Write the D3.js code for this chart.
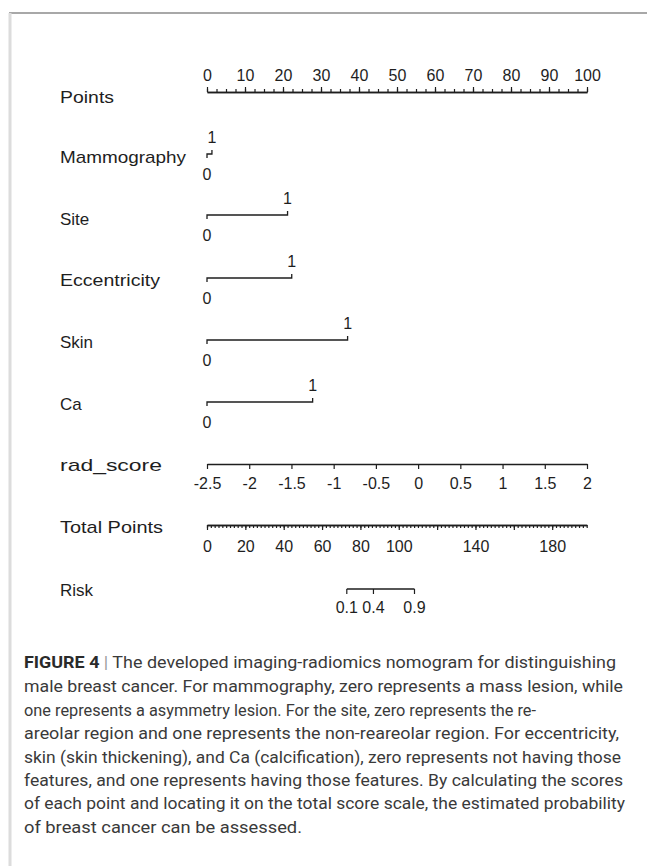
<!DOCTYPE html>
<html>
<head>
<meta charset="utf-8">
<script src="https://cdn.jsdelivr.net/npm/d3@7"></script>
<style>
  html, body { margin: 0; padding: 0; background: #fff; }
  svg { display: block; }
</style>
</head>
<body>
<script>
// Nomogram scales and values
const pointsRange = [0, 100];
const pointsMajorTicks = d3.range(0, 101, 10);
const pointsMinorTicks = d3.range(0, 100.01, 2.5);

const variableNames = ["Mammography", "Site", "Eccentricity", "Skin", "Ca"];
const variablePointsAtOne = [1.3, 21.2, 22.3, 37.0, 27.8];

const radScoreRange = [-2.5, 2];
const radScoreTicks = [-2.5, -2, -1.5, -1, -0.5, 0, 0.5, 1, 1.5, 2];

const totalRange = [0, 198];
const totalMajorTicks = d3.range(0, 199, 20);
const totalMinorTicks = d3.range(0, 199, 2);
const totalTickLabels = [0, 20, 40, 60, 80, 100, 140, 180];

const riskLabels = ["0.1", "0.4", "0.9"];
const riskTotalPoints = [72.9, 86.8, 108.2];

const captionLines = [
  "The developed imaging-radiomics nomogram for distinguishing",
  "male breast cancer. For mammography, zero represents a mass lesion, while",
  "one represents a asymmetry lesion. For the site, zero represents the re-",
  "areolar region and one represents the non-reareolar region. For eccentricity,",
  "skin (skin thickening), and Ca (calcification), zero represents not having those",
  "features, and one represents having those features. By calculating the scores",
  "of each point and locating it on the total score scale, the estimated probability",
  "of breast cancer can be assessed."
];
const captionRightEdges = [616, 623, 536, 619, 621, 623, 625, 302];

const W = 647, H = 866;
const svg = d3.select("body").append("svg").attr("width", W).attr("height", H);

// frame
svg.append("line").attr("x1", 9).attr("x2", W).attr("y1", 13).attr("y2", 13)
  .attr("stroke", "#a8a8a8").attr("stroke-width", 2);
svg.append("line").attr("x1", 10).attr("x2", 10).attr("y1", 13).attr("y2", H)
  .attr("stroke", "#dcdcdc").attr("stroke-width", 3);

const x0 = 207, x1 = 587;
const xPoints = d3.scaleLinear().domain(pointsRange).range([x0, x1]);
const xRad = d3.scaleLinear().domain(radScoreRange).range([x0, x1]);
const xTotal = d3.scaleLinear().domain(totalRange).range([x0, 586.7]);

const ink = "#1e1e1e";
const font = "'Liberation Sans', Arial, sans-serif";
const labelX = 60;
const labelSize = 17;
const tickSize = 16;

// long row labels are set a little wide, as in the printed figure
const labelWidths = {
  "Points": 54, "Mammography": 126, "Eccentricity": 100,
  "rad_score": 102, "Total Points": 103
};

function rowLabel(text, y) {
  const t = svg.append("text").attr("x", labelX).attr("y", y)
    .attr("font-family", font).attr("font-size", labelSize).attr("fill", ink)
    .attr("dominant-baseline", "central")
    .text(text);
  if (labelWidths[text]) {
    t.attr("textLength", labelWidths[text]).attr("lengthAdjust", "spacingAndGlyphs");
  }
}

// tidy a d3 axis into the plain nomogram look
function styleAxis(g) {
  g.select(".domain").attr("stroke", ink).attr("stroke-width", 1.3);
  g.selectAll(".tick line").attr("stroke", ink).attr("stroke-width", 1.2);
  g.selectAll("text").attr("font-family", font).attr("font-size", tickSize).attr("fill", ink);
}

// Points
rowLabel("Points", 97);
const ptsY = 92;
const gPtsMinor = svg.append("g").attr("transform", `translate(0,${ptsY})`)
  .call(d3.axisTop(xPoints).tickValues(pointsMinorTicks).tickSize(3).tickSizeOuter(0).tickFormat(""));
styleAxis(gPtsMinor);
const gPts = svg.append("g").attr("transform", `translate(0,${ptsY})`)
  .call(d3.axisTop(xPoints).tickValues(pointsMajorTicks).tickSize(5).tickSizeOuter(0).tickPadding(6));
styleAxis(gPts);

// binary predictors
const rowYs = [154, 215, 278, 340, 402];
const labelYs = [157, 219, 280, 342, 404];
variableNames.forEach((name, i) => {
  const y = rowYs[i];
  rowLabel(name, labelYs[i]);
  const xa = xPoints(0), xb = xPoints(variablePointsAtOne[i]);
  svg.append("path")
    .attr("d", `M${xa},${y + 4}V${y}H${xb}V${y - 4}`)
    .attr("fill", "none").attr("stroke", ink).attr("stroke-width", 1.3);
  svg.append("text").attr("x", xb).attr("y", y - 17)
    .attr("text-anchor", "middle").attr("dominant-baseline", "central")
    .attr("font-family", font).attr("font-size", tickSize).attr("fill", ink).text("1");
  svg.append("text").attr("x", xa).attr("y", y + 20)
    .attr("text-anchor", "middle").attr("dominant-baseline", "central")
    .attr("font-family", font).attr("font-size", tickSize).attr("fill", ink).text("0");
});

// rad_score
rowLabel("rad_score", 465);
const gRad = svg.append("g").attr("transform", "translate(0,464)")
  .call(d3.axisBottom(xRad).tickValues(radScoreTicks).tickSize(5).tickSizeOuter(0).tickPadding(9)
    .tickFormat(d => String(d)));
styleAxis(gRad);

// Total Points
rowLabel("Total Points", 527);
const totY = 525;
const gTotMinor = svg.append("g").attr("transform", `translate(0,${totY})`)
  .call(d3.axisBottom(xTotal).tickValues(totalMinorTicks).tickSize(3).tickSizeOuter(0).tickFormat(""));
styleAxis(gTotMinor);
const gTot = svg.append("g").attr("transform", `translate(0,${totY})`)
  .call(d3.axisBottom(xTotal).tickValues(totalMajorTicks).tickSize(5).tickSizeOuter(0).tickPadding(11)
    .tickFormat(d => totalTickLabels.includes(d) ? String(d) : ""));
styleAxis(gTot);

// Risk
rowLabel("Risk", 590);
const riskY = 589;
const riskX = riskTotalPoints.map(v => xTotal(v));
const riskScale = d3.scaleOrdinal().domain(riskLabels).range(riskX);
const gRisk = svg.append("g").attr("transform", `translate(0,${riskY})`);
gRisk.append("path")
  .attr("d", `M${d3.min(riskX)},0H${d3.max(riskX)}`)
  .attr("stroke", ink).attr("stroke-width", 1.3).attr("fill", "none");
riskLabels.forEach(lbl => {
  const x = riskScale(lbl);
  gRisk.append("line").attr("x1", x).attr("x2", x).attr("y1", 0).attr("y2", 5)
    .attr("stroke", ink).attr("stroke-width", 1.2);
  gRisk.append("text").attr("x", x).attr("y", 18)
    .attr("text-anchor", "middle").attr("dominant-baseline", "central")
    .attr("font-family", font).attr("font-size", tickSize).attr("fill", ink).text(lbl);
});

// caption
const capFont = "Roboto, 'Liberation Sans', Arial, sans-serif";
const capX = 24;
const capBaselines = [668, 692, 716, 739, 763, 786, 809, 833];
captionLines.forEach((line, i) => {
  const t = svg.append("text").attr("x", capX).attr("y", capBaselines[i])
    .attr("font-family", capFont).attr("font-size", 17).attr("fill", "#3a3a3a")
    .attr("textLength", captionRightEdges[i] - capX)
    .attr("lengthAdjust", "spacingAndGlyphs");
  if (i === 0) {
    t.append("tspan").attr("font-weight", "bold").attr("fill", "#2a2a2a").text("FIGURE 4 ");
    t.append("tspan").attr("fill", "#9a9a9a").text("| ");
    t.append("tspan").text(line);
  } else {
    t.text(line);
  }
});
</script>
</body>
</html>
